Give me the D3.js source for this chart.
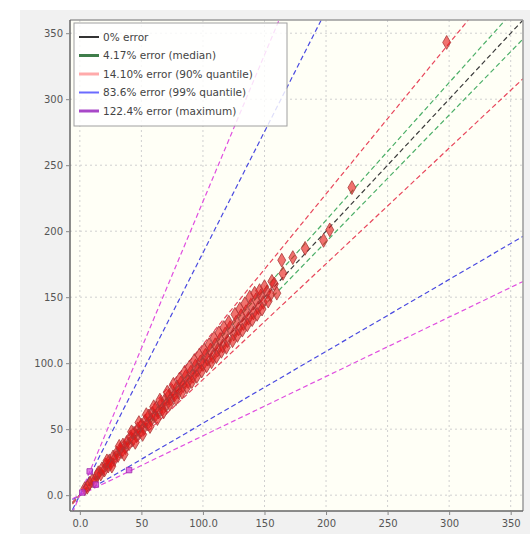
<!DOCTYPE html>
<html>
<head>
<meta charset="utf-8">
<script src="https://cdn.jsdelivr.net/npm/d3@7"></script>
<style>
  html, body { margin: 0; padding: 0; background: #ffffff; }
  svg { display: block; font-family: "DejaVu Sans", sans-serif; }
</style>
</head>
<body>
<svg id="chart" width="530" height="534"></svg>
<script>
// Axis ticks and their printed labels
const tickValues = [0, 50, 100, 150, 200, 250, 300, 350];
const tickLabels = ["0.0", "50", "100.0", "150", "200", "250", "300", "350"];

// Error bands: relative error and the name shown in the legend
const bandNames  = ["0% error", "4.17% error (median)", "14.10% error (90% quantile)",
                    "83.6% error (99% quantile)", "122.4% error (maximum)"];
const bandErrors = [0, 0.0417, 0.1410, 0.836, 1.224];
const bandColors = ["#3a3a3a", "#4caf68", "#e8475c", "#4a4ae0", "#e050e0"];
const legendColors = ["#333333", "#3f7d4a", "#ffaaaa", "#6b6bff", "#a848c8"];
const legendWidths = [2, 3, 3, 2, 3];

// Measured vs. predicted values
const measured  = [4, 6, 8, 10, 12, 14, 15, 17, 18, 20, 21, 23, 24, 25, 27, 28, 30, 31, 33, 34,
                   35, 37, 38, 40, 41, 43, 44, 46, 47, 49, 50, 52, 53, 55, 56, 58, 59, 61, 62, 64,
                   66, 67, 69, 70, 72, 74, 75, 77, 79, 80, 82, 84, 86, 88, 90, 92, 94, 96, 98, 100,
                   102, 104, 106, 108, 110, 112, 114, 116, 118, 120, 122, 125, 127, 129, 131, 133, 135, 137, 139, 141,
                   143, 145, 147, 149, 152, 155, 158, 164, 165, 173, 183, 198, 203, 221, 298,
                   22, 26, 32, 36, 42, 45, 48, 51, 54, 57, 60, 63, 65, 68, 71, 73, 76, 78, 81, 83,
                   85, 87, 89, 91, 93, 95, 97, 99, 101, 103, 105, 107, 109, 111, 113, 115, 117, 119, 121, 124,
                   126, 128, 130, 132, 134, 136, 138, 140, 142, 144, 146, 148, 150, 153, 156, 160];
const predicted = [5, 6, 9, 11, 11, 15, 17, 16, 20, 19, 23, 22, 26, 24, 29, 27, 32, 30, 35, 33,
                   38, 36, 40, 39, 44, 42, 47, 45, 50, 48, 53, 51, 56, 54, 60, 57, 62, 60, 66, 63,
                   69, 65, 72, 68, 75, 73, 79, 76, 82, 78, 85, 83, 90, 86, 93, 90, 98, 95, 101, 99,
                   106, 103, 110, 105, 114, 110, 118, 113, 122, 117, 127, 122, 131, 126, 136, 130, 139, 134, 144, 138,
                   148, 142, 151, 146, 154, 152, 160, 178, 168, 180, 187, 193, 201, 233, 343,
                   26, 22, 37, 31, 48, 40, 55, 46, 61, 52, 67, 58, 72, 63, 78, 69, 84, 73, 88, 78,
                   93, 82, 97, 86, 102, 90, 106, 94, 110, 98, 114, 101, 119, 105, 123, 109, 127, 112, 131, 117,
                   137, 121, 141, 125, 145, 129, 150, 133, 153, 137, 155, 141, 158, 147, 162, 153];

// Extreme-error cases near the origin
const extremeMeasured  = [8, 13, 40, 2];
const extremePredicted = [18, 8, 19, 2];

const svg = d3.select("#chart");
const plot = { left: 70, right: 523, top: 20, bottom: 511 };

// Panel background
svg.append("rect").attr("x", 20).attr("y", 10).attr("width", 510).attr("height", 524)
  .attr("fill", "#f1f1f1");
svg.append("rect").attr("x", plot.left).attr("y", plot.top)
  .attr("width", plot.right - plot.left).attr("height", plot.bottom - plot.top)
  .attr("fill", "#fffff6");

const x = d3.scaleLinear().domain([-8, 360]).range([plot.left, plot.right]);
const y = d3.scaleLinear().domain([-12, 360]).range([plot.bottom, plot.top]);

// Grid
const grid = svg.append("g").attr("stroke", "#d0d0d0").attr("stroke-dasharray", "2,3").attr("stroke-width", 1);
grid.selectAll(".gx").data(tickValues).enter().append("line")
  .attr("x1", d => x(d)).attr("x2", d => x(d))
  .attr("y1", plot.top).attr("y2", plot.bottom);
grid.selectAll(".gy").data(tickValues).enter().append("line")
  .attr("y1", d => y(d)).attr("y2", d => y(d))
  .attr("x1", plot.left).attr("x2", plot.right);

// Clip region for marks
svg.append("clipPath").attr("id", "clip").append("rect")
  .attr("x", plot.left).attr("y", plot.top)
  .attr("width", plot.right - plot.left).attr("height", plot.bottom - plot.top);
const marks = svg.append("g").attr("clip-path", "url(#clip)");

// Error band lines: y = x*(1+e) and y = x/(1+e)
const x0 = -6, x1 = 360;
bandErrors.forEach((e, i) => {
  const slopes = e === 0 ? [1] : [1 + e, 1 / (1 + e)];
  slopes.forEach(s => {
    marks.append("line")
      .attr("x1", x(x0)).attr("y1", y(x0 * s))
      .attr("x2", x(x1)).attr("y2", y(x1 * s))
      .attr("stroke", bandColors[i]).attr("stroke-width", 1.2)
      .attr("stroke-dasharray", "5,3");
  });
});

// Points
const diamond = d3.symbol().type(d3.symbolDiamond).size(55);
marks.selectAll(".pt").data(measured).enter().append("path")
  .attr("d", diamond)
  .attr("transform", (d, i) => `translate(${x(d)},${y(predicted[i])})`)
  .attr("fill", "rgba(232,20,20,0.6)").attr("stroke", "#a83a3a").attr("stroke-width", 0.8);

const square = d3.symbol().type(d3.symbolSquare).size(30);
marks.selectAll(".ex").data(extremeMeasured).enter().append("path")
  .attr("d", square)
  .attr("transform", (d, i) => `translate(${x(d)},${y(extremePredicted[i])})`)
  .attr("fill", "rgba(210,60,220,0.7)").attr("stroke", "#9a2aa8").attr("stroke-width", 0.8);

// Frame
svg.append("line").attr("x1", plot.left).attr("x2", plot.right).attr("y1", plot.top).attr("y2", plot.top)
  .attr("stroke", "#9a9a9a").attr("stroke-width", 1.5);
svg.append("line").attr("x1", plot.right).attr("x2", plot.right).attr("y1", plot.top).attr("y2", plot.bottom)
  .attr("stroke", "#9a9a9a").attr("stroke-width", 1.5);

// Axes
const fmt = d => tickLabels[tickValues.indexOf(d)];
const xAxis = svg.append("g").attr("transform", `translate(0,${plot.bottom})`)
  .call(d3.axisBottom(x).tickValues(tickValues).tickFormat(fmt).tickSize(4).tickSizeOuter(0));
const yAxis = svg.append("g").attr("transform", `translate(${plot.left},0)`)
  .call(d3.axisLeft(y).tickValues(tickValues).tickFormat(fmt).tickSize(4).tickSizeOuter(0));
[xAxis, yAxis].forEach(a => {
  a.select(".domain").attr("stroke", "#666").attr("stroke-width", 1.5);
  a.selectAll(".tick line").attr("stroke", "#888");
  a.selectAll("text").attr("fill", "#555").attr("font-size", 10)
    .attr("font-family", "DejaVu Sans, sans-serif");
});
xAxis.selectAll("text").attr("dy", "0.9em");
// Axis lines drawn to the plot edges
xAxis.select(".domain").attr("d", `M${plot.left},0H${plot.right}`);
yAxis.select(".domain").attr("d", `M0,${plot.top}V${plot.bottom}`);

// Legend
const lg = svg.append("g").attr("transform", "translate(74,23)");
lg.append("rect").attr("width", 213).attr("height", 103)
  .attr("fill", "rgba(255,255,255,0.82)").attr("stroke", "#a0a0a0");
bandNames.forEach((name, i) => {
  const row = lg.append("g").attr("transform", `translate(0,${14 + i * 18.5})`);
  row.append("line").attr("x1", 5).attr("x2", 25).attr("y1", 0).attr("y2", 0)
    .attr("stroke", legendColors[i]).attr("stroke-width", legendWidths[i]);
  row.append("text").attr("x", 29).attr("y", 0).attr("dy", "0.35em")
    .attr("font-size", 10.5).attr("fill", "#444").text(name);
});
</script>
</body>
</html>
